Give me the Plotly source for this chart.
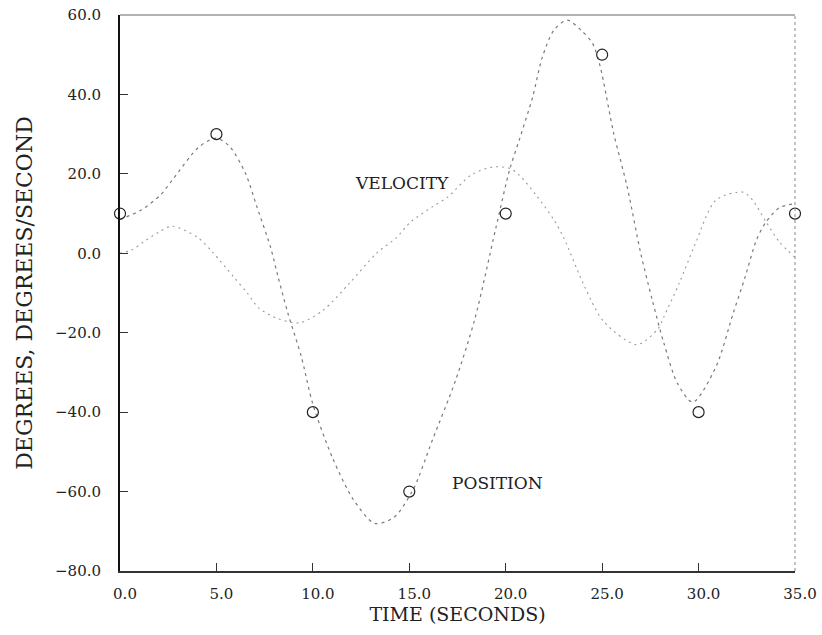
import plotly.graph_objects as go

# Sample points (circles)
sample_t = [0, 5, 10, 15, 20, 25, 30, 35]
sample_deg = [10, 30, -40, -60, 10, 50, -40, 10]

# Position curve (traced)
pos_t = [0, 1.1, 2.1, 2.8, 4.1, 5.0, 5.7, 6.5, 7.1, 7.8, 8.2, 8.7, 9.4, 10.0, 11.0, 12.1,
         13.2, 14.2, 15.2, 16.2, 17.4, 18.4, 19.5, 20.2, 20.7, 21.4, 21.9, 22.5, 23.2,
         23.9, 24.5, 24.9, 25.6, 26.3, 27.0, 27.6, 28.2, 28.9, 29.7, 30.9, 31.8, 32.4,
         33.0, 33.5, 34.2, 35.0]
pos_deg = [8.5, 10.9, 14.7, 19.0, 26.8, 29.0, 26.8, 20.2, 11.7, 1.6, -6.0, -15.0, -26.0,
           -38.0, -51.3, -62.0, -68.0, -66.5, -59.5, -47.0, -32.0, -16.5, 6.6, 21.0, 28.5,
           39.4, 49.4, 56.2, 58.7, 56.2, 52.9, 47.0, 30.2, 16.7, 0.0, -11.8, -22.6, -32.7,
           -37.5, -28.6, -15.0, -6.2, 3.3, 7.9, 11.5, 12.5]

# Velocity curve (traced)
vel_t = [0, 0.6, 1.2, 2.0, 2.7, 4.0, 4.8, 5.9, 6.6, 7.2, 8.2, 9.3, 10.5, 11.9, 13.3, 14.3,
         15.1, 16.2, 17.0, 18.2, 19.3, 20.2, 20.7, 21.6, 22.5, 23.0, 24.1, 25.1, 26.8,
         27.9, 28.2, 29.0, 29.8, 30.9, 32.3, 32.8, 33.5, 34.2, 35.0]
vel_deg = [0.0, 0.8, 2.8, 5.3, 6.8, 4.1, 0.3, -6.0, -10.0, -13.8, -16.5, -17.5, -14.5,
           -7.5, 0.0, 3.8, 8.0, 11.7, 14.2, 19.7, 21.7, 21.4, 19.7, 14.5, 8.4, 4.0, -8.5,
           -17.3, -23.0, -19.0, -16.0, -7.5, 2.0, 13.4, 15.4, 13.4, 7.9, 2.8, -1.0]

y_ticks = [60, 40, 20, 0, -20, -40, -60, -80]
x_ticks = [0, 5, 10, 15, 20, 25, 30, 35]

labels = ["VELOCITY", "POSITION"]
label_t = [14.6, 19.55]
label_deg = [17.7, -57.9]

FONT = "DejaVu Serif"

fig = go.Figure()
fig.add_trace(go.Scatter(x=vel_t, y=vel_deg, mode="lines",
                         line=dict(color="#9a9a9a", width=1.1, dash="2px,4px", shape="spline", smoothing=0.8),
                         showlegend=False, hoverinfo="skip"))
fig.add_trace(go.Scatter(x=pos_t, y=pos_deg, mode="lines",
                         line=dict(color="#7a7a7a", width=1.2, dash="3px,4px", shape="spline", smoothing=0.8),
                         showlegend=False, hoverinfo="skip"))
fig.add_trace(go.Scatter(x=sample_t, y=sample_deg, mode="markers", cliponaxis=False,
                         marker=dict(symbol="circle-open", size=11, color="#222222", line=dict(width=1.2)),
                         showlegend=False, hoverinfo="skip"))

for txt, tx, ty in zip(labels, label_t, label_deg):
    fig.add_annotation(x=tx, y=ty, text=txt, showarrow=False,
                       font=dict(family=FONT, size=17, color="#222222"))

# top and right frame edges
fig.add_shape(type="line", xref="paper", yref="paper", x0=0, x1=1, y0=1, y1=1,
              line=dict(color="#666666", width=1))
fig.add_shape(type="line", xref="paper", yref="paper", x0=1, x1=1, y0=0, y1=1,
              line=dict(color="#888888", width=1, dash="dot"))

fig.update_layout(
    width=822, height=635,
    margin=dict(l=120, r=27, t=15, b=64),
    paper_bgcolor="white", plot_bgcolor="white",
    font=dict(family=FONT, color="#222222"),
    xaxis=dict(range=[0, 35], tickvals=x_ticks, tickformat=".1f",
               ticks="inside", ticklen=8, tickcolor="#333333",
               showline=True, linecolor="#333333", linewidth=1.5,
               showgrid=False, zeroline=False, automargin=False,
               tickfont=dict(family=FONT, size=15, color="#222222"),
               ticklabelstandoff=8, ticklabelshift=5,
               title=dict(text="TIME (SECONDS)", font=dict(family=FONT, size=19, color="#222222"), standoff=6)),
    yaxis=dict(range=[-80, 60], tickvals=y_ticks, tickformat=".1f",
               ticks="inside", ticklen=8, tickcolor="#333333",
               showline=True, linecolor="#111111", linewidth=2,
               showgrid=False, zeroline=False, automargin=False,
               tickfont=dict(family=FONT, size=15, color="#222222"),
               ticklabelstandoff=14,
               title=dict(text="DEGREES, DEGREES/SECOND", font=dict(family=FONT, size=22, color="#222222"), standoff=16)),
)

fig.write_html("out.html")
